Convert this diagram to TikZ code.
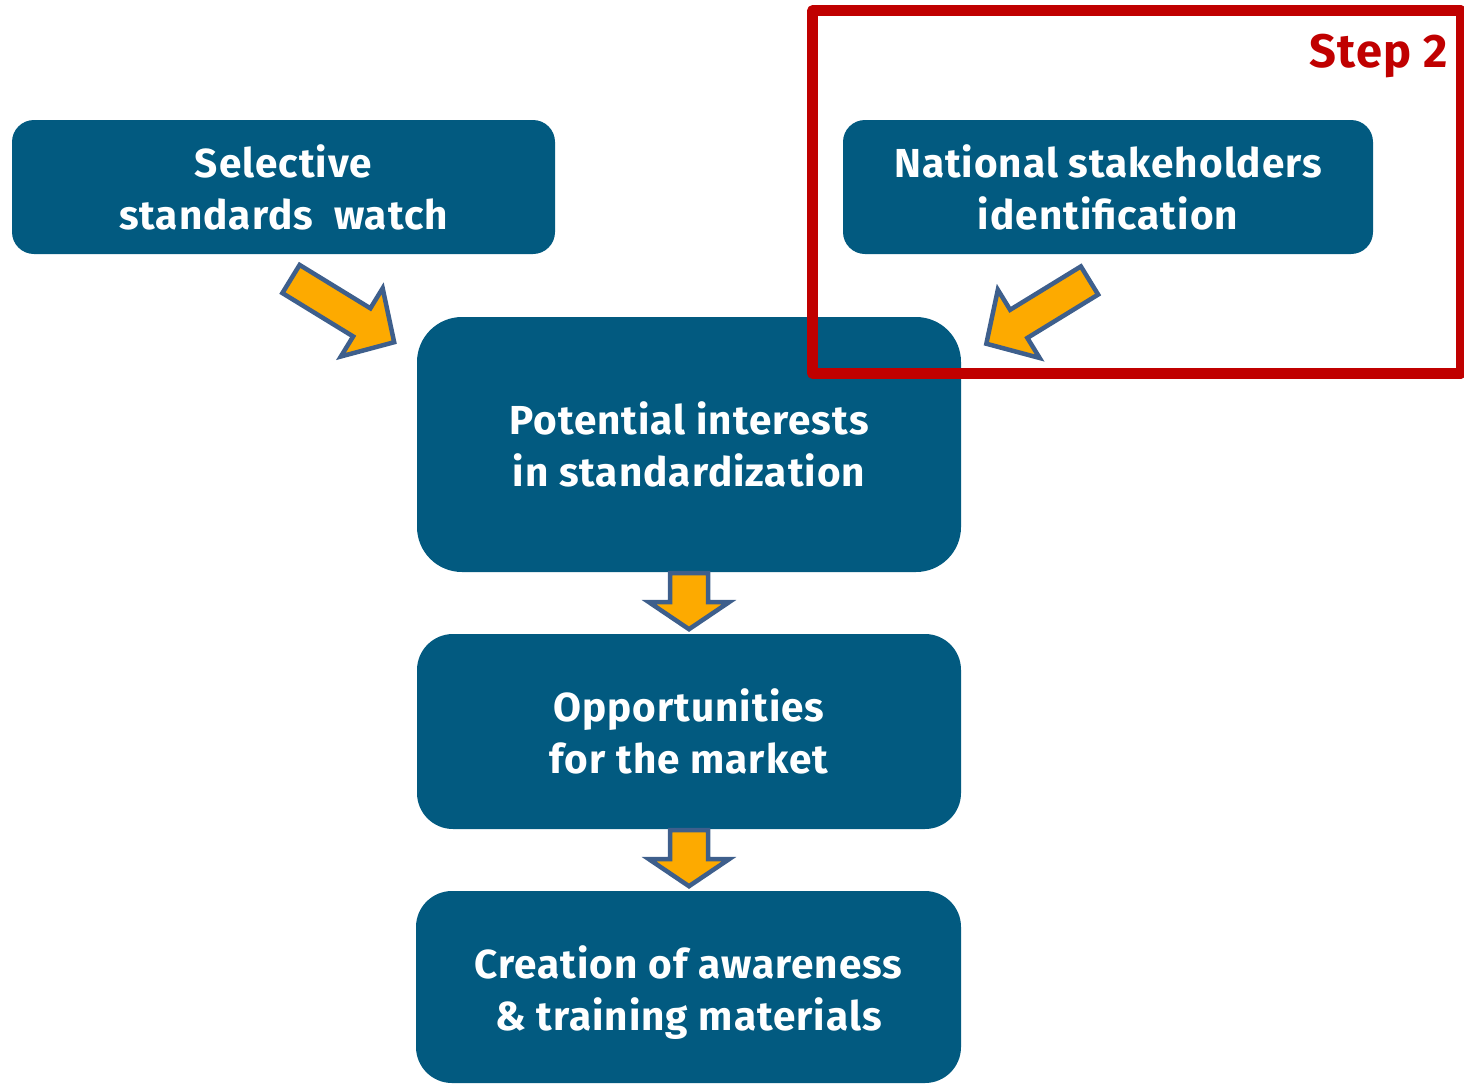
\documentclass[tikz,border=0pt]{standalone}
\usepackage{fontspec}
\setmainfont{Fira Sans}[LetterSpace=2.5]
\usetikzlibrary{positioning}

\definecolor{boxblue}{HTML}{025A80}
\definecolor{arrowfill}{HTML}{FDAA00}
\definecolor{arrowline}{HTML}{3E5F8C}
\definecolor{stepred}{HTML}{C00000}

\tikzset{
  stagebox/.style={fill=boxblue, draw=none, text=white, align=center,
    font=\bfseries\fontsize{40.5}{52}\selectfont, inner sep=0pt},
  stagetext/.style={text=white, align=center,
    font=\bfseries\fontsize{40.5}{52}\selectfont, inner sep=0pt},
  blockarrow/.style={fill=arrowfill, draw=arrowline, line width=4.5pt, line join=miter},
  pics/barrow/.style n args={4}{code={
    % length, shaft half width, head half width, head length
    \path[blockarrow] (0,-#2) -- ({#1-#4},-#2) -- ({#1-#4},-#3) -- (#1,0)
      -- ({#1-#4},#3) -- ({#1-#4},#2) -- (0,#2) -- cycle;
  }},
}

\begin{document}
\begin{tikzpicture}[x=1pt,y=-1pt]
\useasboundingbox (0,0) rectangle (1464,1084);

% stage boxes
\node[stagebox, minimum width=543pt, minimum height=134pt, rounded corners=22pt]
  (watch) at (283.5,187) {Selective\\standards~~watch};
\node[stagebox, minimum width=530pt, minimum height=134pt, rounded corners=22pt]
  (stake) at (1108,187) {National stakeholders\\identification};
\node[stagebox, minimum width=544pt, minimum height=255pt, rounded corners=45pt]
  (interest) at (689,444.5) {Potential interests\\in standardization};
\node[stagebox, minimum width=544pt, minimum height=195pt, rounded corners=36pt]
  (market) at (689,731.5) {Opportunities\\for the market};
\node[stagebox, minimum width=545pt, minimum height=192pt, rounded corners=36pt]
  (aware) at (688.5,987) {};
\node[stagetext] (awaretext) at ([yshift=-6pt]aware.center)
  {Creation of awareness\\\& training materials};

% block arrows between the stages
\pic[rotate=-31.5] at (291,279) {barrow={121}{16.5}{40}{38}};
\pic[rotate=-148.5] at (1089.5,280.5) {barrow={121}{16.5}{40}{38}};
\pic[rotate=-90] at ([yshift=-1pt]interest.south) {barrow={56}{19}{40}{27}};
\pic[rotate=-90] at ([yshift=-1pt]market.south) {barrow={56}{19}{40}{27}};

% step frame
\draw[stepred, line width=10.5pt, line join=round]
  (812.5,10.5) rectangle (1461,373.5);
\node[anchor=base east, text=stepred, inner sep=0pt,
  font=\bfseries\fontsize{47}{56}\selectfont] (step) at (1448,67) {Step 2};
\end{tikzpicture}
\end{document}
